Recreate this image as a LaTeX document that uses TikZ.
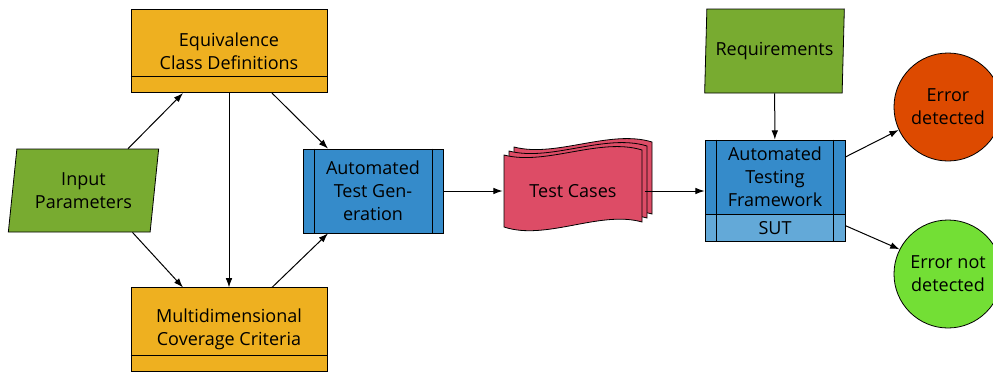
\documentclass[tikz,border=0pt]{standalone}
\usepackage{fontspec}
\setmainfont{Open Sans}
\usetikzlibrary{shapes.geometric,arrows.meta,positioning}

\definecolor{defyellow}{HTML}{EEB020}
\definecolor{datagreen}{HTML}{78AB30}
\definecolor{procblue}{HTML}{358BCA}
\definecolor{sutblue}{HTML}{63A9D8}
\definecolor{casered}{HTML}{DD4C66}
\definecolor{errred}{HTML}{DD4A00}
\definecolor{okgreen}{HTML}{73DF35}

\tikzset{
  base/.style={draw=black, line width=0.6pt, align=center, inner sep=2pt,
    font=\fontsize{13.5}{17.25}\selectfont},
  data/.style={base, trapezium, trapezium stretches=true, fill=datagreen},
  defbox/.style={base, rectangle, fill=defyellow, minimum width=147pt, minimum height=62.5pt},
  procbox/.style={base, rectangle, fill=procblue, minimum width=105pt},
  term/.style={base, circle, minimum size=81pt},
  flow/.style={-{Latex[length=7pt,width=5pt]}, line width=0.75pt},
}

\begin{document}
\begin{tikzpicture}[x=0.75pt,y=-0.75pt]
\useasboundingbox (0,0) rectangle (993,372);

% inputs
\node[data, trapezium left angle=81, trapezium right angle=99,
  minimum width=113.25pt, minimum height=62.25pt] (inp) at (83.5,190.5) {Input\\Parameters};
\node[data, trapezium left angle=85, trapezium right angle=95,
  minimum width=105.75pt, minimum height=63pt] (req) at (774.5,51) {Requirements};

% definitions and criteria, each with a strip at the bottom
\node[defbox] (eq) at (229,51) {Equivalence\\Class Definitions};
\draw[line width=0.6pt] ([yshift=12.75pt]eq.south west) -- ([yshift=12.75pt]eq.south east);
\node[defbox] (mcc) at (229,329.5) {Multidimensional\\Coverage Criteria};
\draw[line width=0.6pt] ([yshift=12pt]mcc.south west) -- ([yshift=12pt]mcc.south east);

% generation step
\node[procbox, minimum height=63pt] (atg) at (373,191) {Automated\\Test Gen-\\eration};
\draw[line width=0.6pt] ([xshift=9pt]atg.north west) -- ([xshift=9pt]atg.south west);
\draw[line width=0.6pt] ([xshift=-8pt]atg.north east) -- ([xshift=-8pt]atg.south east);

% stack of test case pages
\foreach \o/\p in {10/-8,5/-4,0/0}{
  \draw[line width=0.6pt, fill=casered, shift={(\o,\p)}]
    (504,227) -- (504,155) .. controls (546,166) and (600,137) .. (642,150)
    -- (642,222) .. controls (600,210) and (546,241) .. (504,227) -- cycle;
}
\node[base, draw=none, minimum width=105pt] (tc) at (573,191) {Test Cases};

% test framework with the system under test
\node[procbox, minimum height=55.5pt] (atf) at (775,177) {Automated\\Testing\\Framework};
\node[procbox, fill=sutblue, minimum height=20.25pt, inner sep=0pt, below=0pt of atf] (sut) {SUT};
\draw[line width=0.6pt] ([xshift=9pt]atf.north west) -- ([xshift=9pt]sut.south west);
\draw[line width=0.6pt] ([xshift=-9pt]atf.north east) -- ([xshift=-9pt]sut.south east);

% outcomes
\node[term, fill=errred] (err) at (948,107) {Error\\detected};
\node[term, fill=okgreen] (nerr) at (948,274) {Error not\\detected};

\draw[flow] ([xshift=-23.25pt]inp.top right corner) -- ([xshift=-34.5pt]eq.south);
\draw[flow] ([xshift=-13.5pt]inp.bottom right corner) -- ([xshift=-34.5pt]mcc.north);
\draw[flow] (eq) -- (mcc);
\draw[flow] ([xshift=32.25pt]eq.south) -- ([xshift=-33.75pt]atg.north);
\draw[flow] ([xshift=32.25pt]mcc.north) -- ([xshift=-33.75pt]atg.south);
\draw[flow] (atg) -- (tc);
\draw[flow] ([xshift=1pt]tc.east) -- (tc.east -| atf.west);
\draw[flow] (req) -- (atf);
\draw[flow] ([yshift=15pt]atf.east) -- (err.205);
\draw[flow] ([yshift=2pt]sut.east) -- (nerr.153);
\end{tikzpicture}
\end{document}
